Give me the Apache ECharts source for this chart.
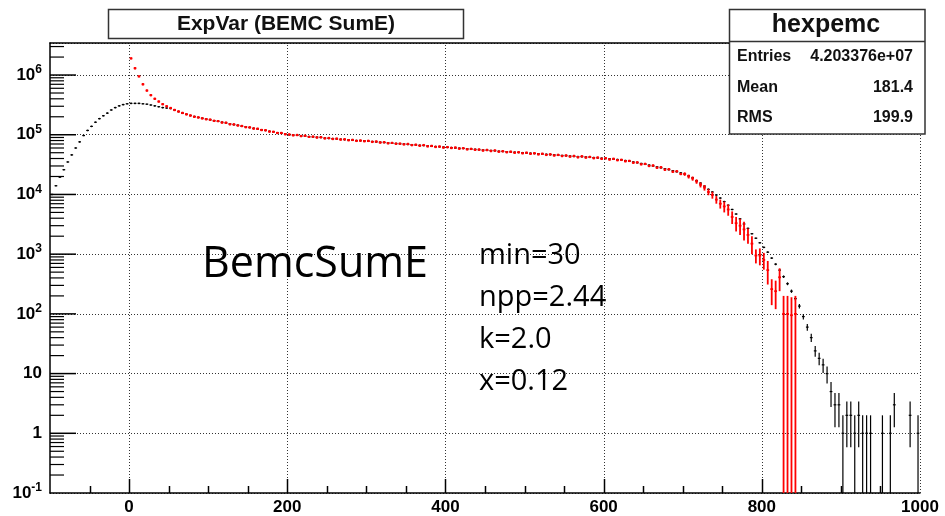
<!DOCTYPE html>
<html>
<head>
<meta charset="utf-8">
<script src="https://cdn.jsdelivr.net/npm/echarts@6/dist/echarts.min.js"></script>
<style>
  html, body { margin: 0; padding: 0; background: #ffffff; }
  #chart { width: 945px; height: 516px; }
</style>
</head>
<body>
<div id="chart"></div>
<script>
  // histogram binning (5 units per bin)
  const binWidth = 5;
  const xMin = -100;
  const xMax = 1000;
  const yMin = 0.1;
  const yMax = 3.44e6;

  // black: hexpemc, bins from -100 to 1000
  const blackStart = -100;
  const blackCounts = [
    1.0e4, 1.4e4, 1.95e4, 2.6e4, 3.5e4, 4.6e4, 6.0e4, 7.6e4, 9.7e4, 1.18e5,
    1.38e5, 1.62e5, 1.86e5, 2.08e5, 2.3e5, 2.6e5, 2.85e5, 3.05e5, 3.2e5, 3.3e5,
    3.35e5, 3.35e5, 3.35e5, 3.3e5, 3.25e5, 3.15e5, 3.05e5, 2.95e5, 2.85e5, 2.8e5,
    2.75e5, 2.6e5, 2.45e5, 2.3e5, 2.2e5, 2.1e5, 2.02e5, 1.95e5, 1.89e5, 1.83e5,
    1.78e5, 1.72e5, 1.68e5, 1.62e5, 1.58e5, 1.52e5, 1.48e5, 1.44e5, 1.39e5, 1.36e5,
    1.32e5, 1.28e5, 1.25e5, 1.21e5, 1.18e5, 1.14e5, 1.12e5, 1.08e5, 1.06e5, 1.03e5,
    1.0e5, 9.9e4, 9.8e4, 9.6e4, 9.5e4, 9.3e4, 9.2e4, 9.1e4, 9.0e4, 8.8e4,
    8.7e4, 8.6e4, 8.5e4, 8.4e4, 8.3e4, 8.2e4, 8.1e4, 8.0e4, 7.95e4, 7.9e4,
    7.8e4, 7.7e4, 7.6e4, 7.5e4, 7.4e4, 7.3e4, 7.2e4, 7.15e4, 7.05e4, 7.0e4,
    6.9e4, 6.8e4, 6.75e4, 6.65e4, 6.6e4, 6.5e4, 6.4e4, 6.35e4, 6.3e4, 6.2e4,
    6.15e4, 6.1e4, 6.0e4, 5.95e4, 5.9e4, 5.8e4, 5.75e4, 5.7e4, 5.6e4, 5.55e4,
    5.5e4, 5.45e4, 5.4e4, 5.3e4, 5.25e4, 5.2e4, 5.15e4, 5.1e4, 5.05e4, 5.0e4,
    4.95e4, 4.9e4, 4.85e4, 4.8e4, 4.75e4, 4.7e4, 4.65e4, 4.6e4, 4.55e4, 4.5e4,
    4.45e4, 4.4e4, 4.35e4, 4.3e4, 4.3e4, 4.25e4, 4.2e4, 4.15e4, 4.1e4, 4.05e4,
    4.0e4, 3.95e4, 3.9e4, 3.85e4, 3.8e4, 3.7e4, 3.6e4, 3.5e4, 3.4e4, 3.3e4,
    3.2e4, 3.1e4, 3.0e4, 2.9e4, 2.8e4, 2.7e4, 2.6e4, 2.5e4, 2.4e4, 2.3e4,
    2.2e4, 2.05e4, 1.9e4, 1.7e4, 1.55e4, 1.38e4, 1.22e4, 1.1e4, 9.8e3, 8.7e3,
    7.6e3, 6.6e3, 5.6e3, 4.7e3, 3.9e3, 3.2e3, 2.7e3, 2.2e3, 1.85e3, 1.55e3,
    1300, 1080, 860, 680, 540, 420, 320, 240, 180, 135,
    90, 60, 40, 24, 18, 14, 10, 5, 3, 3,
    1, 2, 2, 1, 2, 1, 1, 1, 0, 0,
    1, 0, 1, 3, 0, 0, 0, 2, 0, 1
  ];

  // red: model, bins from 0 to 845
  const redStart = 0;
  const redCounts = [
    1.9e6, 1.3e6, 9.5e5, 7.0e5, 5.5e5, 4.6e5, 4.0e5, 3.6e5, 3.25e5, 3.0e5,
    2.8e5, 2.6e5, 2.45e5, 2.32e5, 2.2e5, 2.1e5, 2.0e5, 1.95e5, 1.88e5, 1.82e5,
    1.79e5, 1.71e5, 1.69e5, 1.6e5, 1.59e5, 1.5e5, 1.49e5, 1.43e5, 1.4e5, 1.34e5,
    1.33e5, 1.27e5, 1.26e5, 1.2e5, 1.19e5, 1.13e5, 1.12e5, 1.07e5, 1.07e5, 1.02e5,
    1.01e5, 9.8e4, 9.9e4, 9.5e4, 9.6e4, 9.2e4, 9.3e4, 9.0e4, 9.1e4, 8.7e4,
    8.8e4, 8.5e4, 8.6e4, 8.3e4, 8.4e4, 8.1e4, 8.2e4, 7.9e4, 8.0e4, 7.8e4,
    7.9e4, 7.6e4, 7.7e4, 7.4e4, 7.5e4, 7.2e4, 7.3e4, 7.05e4, 7.1e4, 6.9e4,
    7.0e4, 6.7e4, 6.8e4, 6.55e4, 6.7e4, 6.4e4, 6.5e4, 6.25e4, 6.35e4, 6.1e4,
    6.2e4, 6.0e4, 6.1e4, 5.85e4, 5.95e4, 5.7e4, 5.8e4, 5.6e4, 5.65e4, 5.45e4,
    5.55e4, 5.35e4, 5.45e4, 5.2e4, 5.3e4, 5.1e4, 5.2e4, 5.0e4, 5.1e4, 4.9e4,
    5.0e4, 4.8e4, 4.9e4, 4.7e4, 4.8e4, 4.6e4, 4.7e4, 4.5e4, 4.6e4, 4.4e4,
    4.5e4, 4.3e4, 4.4e4, 4.2e4, 4.35e4, 4.15e4, 4.25e4, 4.05e4, 4.15e4, 3.95e4,
    4.05e4, 3.85e4, 3.95e4, 3.75e4, 3.8e4, 3.6e4, 3.65e4, 3.4e4, 3.45e4, 3.2e4,
    3.25e4, 3.0e4, 3.05e4, 2.8e4, 2.85e4, 2.6e4, 2.65e4, 2.4e4, 2.45e4, 2.2e4,
    2.2e4, 2.0e4, 1.85e4, 1.65e4, 1.45e4, 1.3e4, 1.1e4, 9.8e3, 8.2e3, 7.0e3,
    6.3e3, 5.6e3, 4.2e3, 3.3e3, 3.0e3, 2.6e3, 2.1e3, 1.5e3, 950, 950,
    800, 540, 260, 240, 410, 100, 100, 95, 100
  ];
  // red error bars from 700 on (bigger errors in the fall-off)
  const redTailStart = 700;
  const redTailErr = [
    1500, 1500, 1500, 1400, 1400, 1400, 1300, 1300, 1200, 1200,
    1300, 1200, 1000, 900, 900, 900, 600, 500, 250, 300,
    250, 230, 120, 120, 170, 100, 100, 95, 100
  ];

  const xGridValues = [0, 200, 400, 600, 800, 1000];

  const blackData = blackCounts.map(function (v, i) {
    return [blackStart + (i + 0.5) * binWidth, v, Math.sqrt(v)];
  });
  const tailIdx = (redTailStart - redStart) / binWidth;
  const redData = redCounts.map(function (v, i) {
    const e = i >= tailIdx ? redTailErr[i - tailIdx] : 0;
    return [redStart + (i + 0.5) * binWidth, v, e];
  });

  // tick marks: x every 50, y log minor ticks 2..9
  const tickData = [];
  for (let x = -50; x < xMax; x += 50) {
    tickData.push([x, yMin, x % 200 === 0 ? 1 : 0, 0]);
  }
  for (let d = -1; d <= 6; d++) {
    for (let k = 1; k <= 9; k++) {
      const v = k * Math.pow(10, d);
      if (v > yMin && v < yMax) tickData.push([xMin, v, k === 1 ? 1 : 0, 1]);
    }
  }

  function clampY(v) {
    return Math.min(Math.max(v, yMin), yMax);
  }

  function histItem(color, width, minHalf) {
    return function (params, api) {
      const x = api.value(0);
      const v = api.value(1);
      const e = api.value(2);
      if (!(v > 0)) return;
      const pl = api.coord([x - binWidth / 2, clampY(v)]);
      const pr = api.coord([x + binWidth / 2, clampY(v)]);
      const hi = api.coord([x, clampY(v + e)]);
      const lo = api.coord([x, clampY(v - e)]);
      const yTop = Math.min(hi[1], pl[1] - minHalf);
      const yBot = Math.max(lo[1], pl[1] + minHalf);
      const style = { stroke: color, lineWidth: width };
      return {
        type: 'group',
        children: [
          { type: 'line', shape: { x1: pl[0] + 0.6, y1: pl[1], x2: pr[0] - 0.6, y2: pr[1] }, style: style },
          { type: 'line', shape: { x1: hi[0], y1: yTop, x2: lo[0], y2: yBot }, style: style }
        ]
      };
    };
  }

  const chart = echarts.init(document.getElementById('chart'), null, { renderer: 'canvas' });
  const axisFont = '"Liberation Sans", Arial, sans-serif';
  const textFont = '"Open Sans", "Liberation Sans", sans-serif';

  const option = {
    backgroundColor: '#ffffff',
    animation: false,
    grid: { left: 50, right: 25, top: 43, bottom: 23 },
    xAxis: [
      {
        type: 'value',
        min: xMin,
        max: xMax,
        interval: 50,
        axisLine: { show: true, onZero: false, lineStyle: { color: '#000', width: 1.5 } },
        axisTick: { show: false },
        splitLine: { show: false },
        axisLabel: {
          color: '#000',
          fontFamily: axisFont,
          fontWeight: 'bold',
          fontSize: 17,
          margin: 6,
          formatter: function (v) { return v % 200 === 0 ? String(v) : ''; }
        }
      },
      {
        type: 'value',
        position: 'top',
        min: xMin,
        max: xMax,
        interval: 50,
        axisLine: { show: true, onZero: false, lineStyle: { color: '#000', width: 1.5 } },
        axisTick: { show: false },
        axisLabel: { show: false },
        splitLine: { show: false }
      }
    ],
    yAxis: {
      type: 'log',
      logBase: 10,
      min: yMin,
      max: yMax,
      axisLine: { show: true, onZero: false, lineStyle: { color: '#000', width: 1.5 } },
      axisTick: { show: false },
      splitLine: { show: true, lineStyle: { color: '#333', width: 1, type: [1, 2] } },
      axisLabel: {
        color: '#000',
        fontFamily: axisFont,
        fontWeight: 'bold',
        fontSize: 17,
        margin: 8,
        showMaxLabel: false,
        lineHeight: 22,
        formatter: function (v) {
          const l = Math.log10(v);
          const e = Math.round(l);
          if (Math.abs(l - e) > 1e-6) return '';
          if (e === 0) return '1';
          if (e === 1) return '10';
          return '10{s|' + e + '}';
        },
        rich: {
          s: { fontSize: 12, fontWeight: 'bold', fontFamily: axisFont, color: '#000', verticalAlign: 'top', lineHeight: 22 }
        }
      }
    },
    series: [
      {
        name: 'xgrid',
        type: 'custom',
        silent: true,
        z: 1,
        data: xGridValues.map(function (x) { return [x, yMin]; }),
        renderItem: function (params, api) {
          const x = api.value(0);
          const a = api.coord([x, yMin]);
          const b = api.coord([x, yMax]);
          return {
            type: 'line',
            shape: { x1: Math.round(a[0]) + 0.5, y1: a[1], x2: Math.round(b[0]) + 0.5, y2: b[1] },
            style: { stroke: '#333', lineWidth: 1, lineDash: [1, 2] }
          };
        }
      },
      {
        name: 'ticks',
        type: 'custom',
        silent: true,
        z: 3,
        data: tickData,
        renderItem: function (params, api) {
          const p = api.coord([api.value(0), api.value(1)]);
          const major = api.value(2) === 1;
          if (api.value(3) === 0) {
            const len = major ? 14 : 7;
            const x = Math.round(p[0]) + 0.5;
            return { type: 'line', shape: { x1: x, y1: p[1], x2: x, y2: p[1] - len },
              style: { stroke: '#000', lineWidth: 1.5 } };
          }
          const len = major ? 26 : 14;
          return { type: 'line', shape: { x1: p[0], y1: p[1], x2: p[0] + len, y2: p[1] },
            style: { stroke: '#000', lineWidth: major ? 1.5 : 1.2 } };
        }
      },
      {
        name: 'hexpemc',
        type: 'custom',
        silent: true,
        z: 5,
        clip: true,
        data: blackData,
        renderItem: histItem('#000000', 1.2, 0.8)
      },
      {
        name: 'model',
        type: 'custom',
        silent: true,
        z: 6,
        clip: true,
        data: redData,
        renderItem: histItem('#ff0000', 1.8, 1.2)
      }
    ],
    graphic: [
      {
        type: 'rect', z: 100,
        shape: { x: 108.5, y: 9.5, width: 355, height: 29 },
        style: { fill: '#fff', stroke: '#333', lineWidth: 1.5 }
      },
      {
        type: 'text', z: 101, x: 286, y: 24,
        style: { text: 'ExpVar (BEMC SumE)', fill: '#111', font: 'bold 21px ' + axisFont,
          align: 'center', verticalAlign: 'middle', textAlign: 'center', textVerticalAlign: 'middle' }
      },
      {
        type: 'rect', z: 100,
        shape: { x: 729.5, y: 9.5, width: 195.5, height: 124.5 },
        style: { fill: '#fff', stroke: '#333', lineWidth: 1.5 }
      },
      {
        type: 'line', z: 101,
        shape: { x1: 729.5, y1: 41.5, x2: 925, y2: 41.5 },
        style: { stroke: '#333', lineWidth: 1.5 }
      },
      {
        type: 'text', z: 101, x: 826, y: 25,
        style: { text: 'hexpemc', fill: '#111', font: 'bold 25px ' + axisFont,
          align: 'center', verticalAlign: 'middle', textAlign: 'center', textVerticalAlign: 'middle' }
      },
      {
        type: 'text', z: 101, x: 737, y: 57,
        style: { text: 'Entries', fill: '#111', font: 'bold 16px ' + axisFont,
          align: 'left', verticalAlign: 'middle', textAlign: 'left', textVerticalAlign: 'middle' }
      },
      {
        type: 'text', z: 101, x: 913, y: 57,
        style: { text: '4.203376e+07', fill: '#111', font: 'bold 16px ' + axisFont,
          align: 'right', verticalAlign: 'middle', textAlign: 'right', textVerticalAlign: 'middle' }
      },
      {
        type: 'text', z: 101, x: 737, y: 88,
        style: { text: 'Mean', fill: '#111', font: 'bold 16px ' + axisFont,
          align: 'left', verticalAlign: 'middle', textAlign: 'left', textVerticalAlign: 'middle' }
      },
      {
        type: 'text', z: 101, x: 913, y: 88,
        style: { text: '181.4', fill: '#111', font: 'bold 16px ' + axisFont,
          align: 'right', verticalAlign: 'middle', textAlign: 'right', textVerticalAlign: 'middle' }
      },
      {
        type: 'text', z: 101, x: 737, y: 118,
        style: { text: 'RMS', fill: '#111', font: 'bold 16px ' + axisFont,
          align: 'left', verticalAlign: 'middle', textAlign: 'left', textVerticalAlign: 'middle' }
      },
      {
        type: 'text', z: 101, x: 913, y: 118,
        style: { text: '199.9', fill: '#111', font: 'bold 16px ' + axisFont,
          align: 'right', verticalAlign: 'middle', textAlign: 'right', textVerticalAlign: 'middle' }
      },
      {
        type: 'text', z: 101, x: 202, y: 286,
        style: { text: 'BemcSumE', fill: '#000', font: '43px ' + textFont,
          align: 'left', verticalAlign: 'alphabetic', textAlign: 'left', textVerticalAlign: 'bottom' }
      },
      {
        type: 'text', z: 101, x: 479, y: 270,
        style: { text: 'min=30', fill: '#000', font: '29px ' + textFont,
          align: 'left', verticalAlign: 'bottom', textAlign: 'left', textVerticalAlign: 'bottom' }
      },
      {
        type: 'text', z: 101, x: 479, y: 312,
        style: { text: 'npp=2.44', fill: '#000', font: '29px ' + textFont,
          align: 'left', verticalAlign: 'bottom', textAlign: 'left', textVerticalAlign: 'bottom' }
      },
      {
        type: 'text', z: 101, x: 479, y: 354,
        style: { text: 'k=2.0', fill: '#000', font: '29px ' + textFont,
          align: 'left', verticalAlign: 'bottom', textAlign: 'left', textVerticalAlign: 'bottom' }
      },
      {
        type: 'text', z: 101, x: 479, y: 396,
        style: { text: 'x=0.12', fill: '#000', font: '29px ' + textFont,
          align: 'left', verticalAlign: 'bottom', textAlign: 'left', textVerticalAlign: 'bottom' }
      }
    ]
  };

  chart.setOption(option);
</script>
</body>
</html>
